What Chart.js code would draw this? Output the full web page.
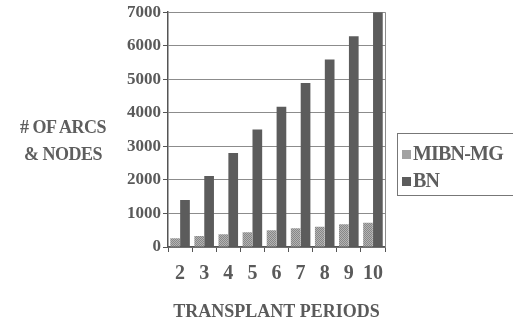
<!DOCTYPE html>
<html>
<head>
<meta charset="utf-8">
<script src="https://cdn.jsdelivr.net/npm/chart.js@4"></script>
<style>
  body { margin: 0; background: #fff; }
  #wrap { position: relative; width: 513px; height: 324px; font-family: "Liberation Serif", serif; font-weight: bold; color: #5e5e5e; }
  #ytitle { position: absolute; left: 0; top: 114px; width: 126px; text-align: center; font-size: 18px; line-height: 27px; letter-spacing: -0.5px; }
  #legend { position: absolute; left: 397px; top: 133px; width: 130px; height: 63px; border: 1px solid #777; box-sizing: border-box; font-size: 20px; letter-spacing: -0.8px; }
  .row { position: absolute; left: 4px; height: 22px; line-height: 22px; white-space: nowrap; }
  .sw { display: inline-block; width: 9px; height: 9px; margin-right: 2px; vertical-align: 1px; }
</style>
</head>
<body>
<div id="wrap">
  <canvas id="c" width="513" height="324"></canvas>
  <div id="ytitle"># OF ARCS<br>&amp; NODES</div>
  <div id="legend">
    <div class="row" style="top:8px"><span class="sw" style="background:#a2a2a2"></span>MIBN-MG</div>
    <div class="row" style="top:35px"><span class="sw" style="background:#5c5c5c"></span>BN</div>
  </div>
</div>
<script>
//data
const periods = ['2', '3', '4', '5', '6', '7', '8', '9', '10'];
const mibnValues = [260, 330, 380, 440, 500, 560, 600, 680, 720];
const bnValues = [1400, 2120, 2800, 3500, 4180, 4890, 5590, 6280, 7000];
const yTicks = [0, 1000, 2000, 3000, 4000, 5000, 6000, 7000];

const textColor = '#5a5a5a';
const gridColor = '#8c8c8c';

//dotted texture for the lighter series
function makePattern() {
    const p = document.createElement('canvas');
    p.width = 2; p.height = 2;
    const g = p.getContext('2d');
    g.fillStyle = '#b4b4b4'; g.fillRect(0, 0, 2, 2);
    g.fillStyle = '#878787'; g.fillRect(0, 0, 1, 1); g.fillRect(1, 1, 1, 1);
    return g.createPattern(p, 'repeat');
}

//right edge of the plot box
const frame = {
    id: 'frame',
    afterDraw(chart) {
        const a = chart.chartArea, ctx = chart.ctx;
        ctx.save();
        ctx.strokeStyle = gridColor;
        ctx.lineWidth = 1;
        ctx.beginPath();
        ctx.moveTo(a.right + 0.5, a.top);
        ctx.lineTo(a.right + 0.5, a.bottom);
        ctx.stroke();
        ctx.restore();
    }
};

new Chart(document.getElementById('c'), {
    type: 'bar',
    data: {
        labels: periods,
        datasets: [
            { label: 'MIBN-MG', data: mibnValues, backgroundColor: makePattern(), borderWidth: 0 },
            { label: 'BN', data: bnValues, backgroundColor: '#5c5c5c', borderWidth: 0 }
        ]
    },
    options: {
        responsive: false,
        animation: false,
        layout: { padding: { left: 0, right: 128, top: 4, bottom: 0 } },
        datasets: { bar: { categoryPercentage: 0.82, barPercentage: 0.98 } },
        plugins: { legend: { display: false }, tooltip: { enabled: false } },
        scales: {
            x: {
                grid: { offset: true, drawOnChartArea: false, tickLength: 5, color: '#555' },
                border: { color: '#555', width: 1.5 },
                ticks: {
                    color: textColor, padding: 10, autoSkip: false, maxRotation: 0, minRotation: 0,
                    font: { family: 'Liberation Serif', weight: 'bold', size: 20 }
                },
                title: {
                    display: true, text: 'TRANSPLANT PERIODS', color: textColor,
                    font: { family: 'Liberation Serif', weight: 'bold', size: 18 },
                    padding: { top: 0, bottom: 1 }
                },
                afterFit(scale) { scale.height = 77; }
            },
            y: {
                min: 0, max: 7000,
                afterBuildTicks(scale) { scale.ticks = yTicks.map(v => ({ value: v })); },
                grid: { color: gridColor, tickLength: 5, tickColor: '#555' },
                border: { color: '#555', width: 1.5 },
                ticks: {
                    color: textColor, padding: 2, callback: v => String(v),
                    font: { family: 'Liberation Serif', weight: 'bold', size: 17 }
                },
                afterFit(scale) { scale.width = 168; }
            }
        }
    },
    plugins: [frame]
});
</script>
</body>
</html>
